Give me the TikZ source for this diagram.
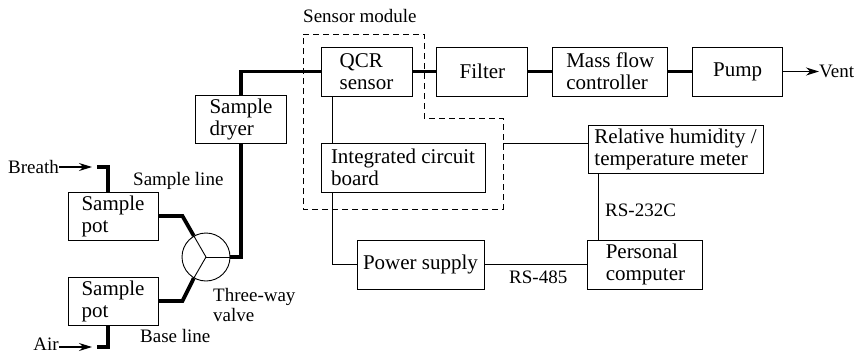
\documentclass[tikz,border=0pt]{standalone}
\usepackage{fontspec}
\setmainfont{Liberation Serif}
\usepackage{tikz}
\usetikzlibrary{arrows.meta,positioning,calc}
\newcommand{\boxfont}{\fontsize{21}{22}\selectfont}
\newcommand{\lblfont}{\fontsize{19}{20}\selectfont}
\tikzset{
  unit/.style={
    draw, line width=0.9pt, align=left, inner sep=1pt, font=\boxfont,
    minimum width=91pt, minimum height=49pt
  },
  valvebody/.style={draw, circle, line width=0.9pt, minimum size=48pt, inner sep=0pt},
  lbl/.style={font=\lblfont, inner sep=0pt, align=left},
  pipe/.style={line width=3.8pt},
  wire/.style={line width=0.9pt},
  modline/.style={line width=0.9pt, dash pattern=on 6pt off 4pt},
  flow/.style={-{Stealth[length=13pt,width=8pt]}, line width=1.3pt},
}

\begin{document}
\begin{tikzpicture}[x=1pt, y=1pt, node distance=24pt]
    \useasboundingbox (0,0) rectangle (865,-356);
    % gas path
    \node[unit, minimum width=90pt, minimum height=48pt] (potA) at (113,-216) {Sample\\pot};
    \node[unit, minimum width=90pt, minimum height=48pt] (potB) at (113,-301) {Sample\\pot};
    \node[valvebody] (valve) at (206,-257) {};
    \node[unit, minimum height=48pt] (dryer) at (241,-119) {Sample\\dryer};
    \node[unit] (qcr) at (366.5,-71.5) {QCR\\sensor};
    \node[unit, right=of qcr] (filter) {Filter};
    \node[unit, right=of filter, minimum width=115pt] (mfc) {Mass flow\\controller};
    \node[unit, right=of mfc, minimum width=90pt] (pump) {Pump};
    % electronics
    \node[unit, minimum width=164pt] (icb) at (403,-167.5) {Integrated circuit\\board};
    \node[unit, minimum width=175pt, minimum height=48pt] (rh) at (675.5,-149) {Relative humidity /\\temperature meter};
    \node[unit, minimum width=127pt] (psu) at (420.5,-264.5) {Power supply};
    \node[unit, right=103pt of psu, minimum width=115pt] (pc) {Personal\\computer};
    % labels
    \node[lbl, anchor=base east] (breath) at (59,-173.5) {Breath};
    \node[lbl, anchor=base east] (air) at (59,-350.5) {Air};
    \node[lbl, anchor=west] (vent) at (819,-71.5) {Vent};
    \node[lbl, anchor=base west] (sline) at (133,-185) {Sample line};
    \node[lbl, anchor=base west] (bline) at (140,-342) {Base line};
    \node[lbl, anchor=north west] (vlbl) at (213,-288.5) {Three-way\\valve};
    \node[lbl, anchor=base west] (smod) at (303,-22) {Sensor module};
    \node[lbl, anchor=base west] (rs232) at (605,-216) {RS-232C};
    \node[lbl, anchor=base west] (rs485) at (509,-283) {RS-485};
    \coordinate (brTip) at (92,-167);
    \coordinate (brPipe) at (97,-167);
    \coordinate (airTip) at (92,-347);
    \coordinate (airPipe) at (97,-347);
    \coordinate (modR) at (503,-143);
    % sensor module outline
    \draw[modline] (303,-34) -- (424,-34) -- (424,-118) -- (503,-118)
        -- (503,-209) -- (303,-209) -- cycle;
    % inlets
    \draw[flow] (breath.east |- brTip) -- (brTip);
    \draw[flow] (air.east |- airTip) -- (airTip);
    \draw[pipe] (brPipe) -| ([xshift=-5pt]potA.north);
    \draw[pipe] (airPipe) -| ([xshift=-5pt]potB.south);
    % valve
    \draw[wire] (valve.center) -- (valve.0);
    \draw[wire] (valve.center) -- (valve.120);
    \draw[wire] (valve.center) -- (valve.240);
    \draw[pipe] (potA.east) -- ++(24,0) -- (valve.120);
    \draw[pipe] (potB.east) -- ++(24,0) -- (valve.240);
    \draw[pipe] (valve.east) -| (dryer.south);
    \draw[pipe] (dryer.north) |- (qcr.west);
    \draw[pipe] (qcr.east) -- (filter.west);
    \draw[pipe] (filter.east) -- (mfc.west);
    \draw[pipe] (mfc.east) -- (pump.west);
    \draw[flow] (pump.east) -- (vent.west);
    % signal lines
    \draw[wire] ([xshift=12pt]qcr.south west) -- ([xshift=12pt]qcr.south west |- icb.north);
    \draw[wire] ([xshift=12pt]icb.south west) |- (psu.west);
    \draw[wire] (modR) -- (modR -| rh.west);
    \draw[wire] ([xshift=11pt]rh.south west) -- ([xshift=11pt]rh.south west |- pc.north);
    \draw[wire] (psu.east) -- (pc.west);
  \end{tikzpicture}
\end{document}
